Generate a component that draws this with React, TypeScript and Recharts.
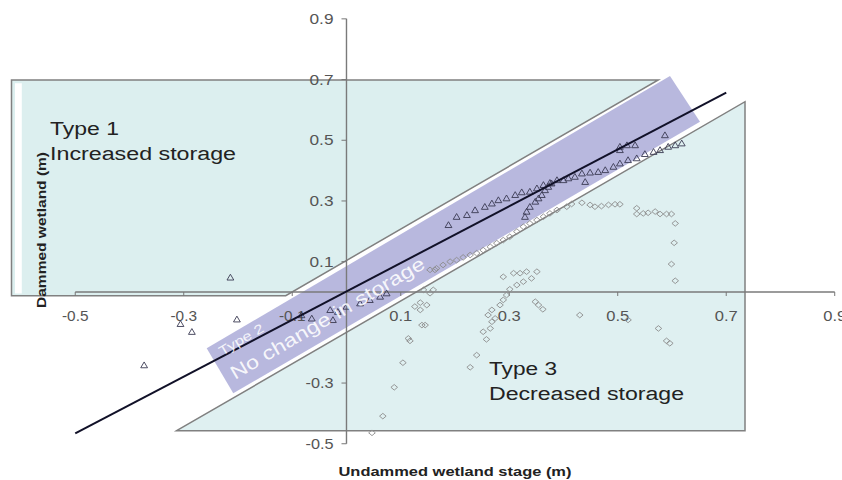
import React from 'react';
import { ScatterChart, Scatter, XAxis, YAxis } from 'recharts';

const W = 842;
const H = 480;
const X_DOMAIN: [number, number] = [-0.6387, 0.9134];
const Y_DOMAIN: [number, number] = [-0.6194, 0.9621];

const xTickValues = [-0.5, -0.3, -0.1, 0.1, 0.3, 0.5, 0.7, 0.9];
const yTickValues = [-0.5, -0.3, 0.1, 0.3, 0.5, 0.7, 0.9];

// Dammed wetland observations (triangles)
const triX = [
  -0.214, -0.202, -0.285, -0.306, -0.373,
  -0.083, -0.064, -0.030, -0.025, -0.016, 0.0, 0.025, 0.043, 0.062, 0.074,
  0.188, 0.203, 0.222, 0.237, 0.255, 0.268, 0.28, 0.295, 0.311, 0.323, 0.338, 0.351, 0.363, 0.375,
  0.388, 0.4, 0.409, 0.421, 0.434, 0.449, 0.464, 0.477, 0.492, 0.504, 0.519, 0.535, 0.55, 0.566,
  0.578, 0.593, 0.606, 0.618,
  0.504, 0.517, 0.532, 0.504, 0.587, 0.44,
  0.329, 0.332, 0.338, 0.348, 0.354, 0.36, 0.366, 0.372, 0.378,
];
const triY = [
  0.048, -0.09, -0.131, -0.105, -0.241,
  -0.076, -0.087, -0.059, -0.092, -0.065, -0.048, -0.037, -0.026, -0.015, -0.004,
  0.221, 0.248, 0.254, 0.27, 0.281, 0.292, 0.303, 0.309, 0.32, 0.329, 0.331, 0.342, 0.353, 0.36,
  0.369, 0.369, 0.375, 0.38, 0.391, 0.394, 0.396, 0.402, 0.413, 0.424, 0.435, 0.441, 0.455, 0.462,
  0.468, 0.479, 0.484, 0.49,
  0.479, 0.484, 0.484, 0.468, 0.517, 0.363,
  0.248, 0.265, 0.281, 0.298, 0.309, 0.32, 0.336, 0.347, 0.358,
];

// Second set of observations (diamonds)
const diaX = [
  0.142, 0.16, 0.154, 0.148, 0.136, 0.163, 0.154, 0.166, 0.178, 0.191, 0.203, 0.215, 0.228, 0.24,
  0.252, 0.265, 0.277, 0.289, 0.301, 0.314, 0.326, 0.338, 0.351, 0.363, 0.375, 0.388, 0.406, 0.415,
  0.434, 0.449, 0.458, 0.47, 0.483, 0.495, 0.504, 0.535, 0.535, 0.547, 0.556, 0.569, 0.578, 0.59,
  0.599, 0.606, 0.604, 0.599, 0.606, 0.575, 0.59, 0.596, 0.519, 0.43,
  0.289, 0.308, 0.32, 0.332, 0.351, 0.341, 0.326, 0.314, 0.301, 0.295, 0.289, 0.283, 0.268, 0.261,
  0.274, 0.268, 0.265, 0.252, 0.258, 0.24, 0.228, 0.348, 0.354, 0.362,
  0.139, 0.145, 0.126, 0.136, 0.117, 0.104, 0.088, 0.067, 0.047, 0.114,
];
const diaY = [
  0.007, 0.007, -0.004, -0.043, -0.059, 0.073, 0.073, 0.078, 0.089, 0.1, 0.105, 0.114, 0.122, 0.128,
  0.138, 0.149, 0.161, 0.171, 0.182, 0.199, 0.215, 0.226, 0.237, 0.248, 0.259, 0.27, 0.281, 0.29,
  0.294, 0.287, 0.281, 0.283, 0.287, 0.289, 0.289, 0.276, 0.257, 0.259, 0.261, 0.265, 0.257, 0.257,
  0.257, 0.226, 0.162, 0.092, 0.037, -0.12, -0.161, -0.169, -0.092, -0.076,
  0.05, 0.062, 0.062, 0.067, 0.067, 0.045, 0.034, 0.023, 0.009, -0.01, -0.026, -0.043, -0.059, -0.076,
  -0.087, -0.098, -0.12, -0.131, -0.156, -0.208, -0.248, -0.032, -0.043, -0.057,
  -0.109, -0.109, -0.048, -0.035, -0.161, -0.233, -0.314, -0.409, -0.464, -0.153,
];

// Fitted line
const fitX = [-0.5, 0.7];
const fitY = [-0.466, 0.657];

// Region outlines (data units)
const type1X = [-0.6175, 0.5747, -0.112, -0.6175];
const type1Y = [0.6985, 0.6985, -0.012, -0.012];
const stripX = [-0.611, -0.5985, -0.5985, -0.611];
const stripY = [0.688, 0.688, -0.005, -0.005];
const type3X = [-0.3131, 0.7346, 0.7346];
const type3Y = [-0.457, 0.627, -0.457];
const bandX = [-0.2577, 0.5963, 0.6516, -0.2087];
const bandY = [-0.1855, 0.7117, 0.5611, -0.3338];

const axisXLineX = [-0.5, 0.9];
const axisXLineY = [0, 0];
const axisYLineX = [0, 0];
const axisYLineY = [-0.5, 0.9];

const zip = (xs: number[], ys: number[]) => xs.map((x, i) => ({ x, y: ys[i] }));

const FONT = '"Liberation Sans", Arial, sans-serif';
const BAND_ANGLE = -30.45;

const empty = () => <g />;

const polygonLine = (fill: string, stroke: string, sw: number, opacity = 1) => (p: any) => {
  const pts = (p.points || []).map((q: any) => `${q.x},${q.y}`).join(' ');
  return <polygon points={pts} fill={fill} fillOpacity={opacity} stroke={stroke} strokeWidth={sw} />;
};

const triangleShape = (p: any) => {
  const { cx, cy } = p;
  return (
    <polygon
      points={`${cx},${cy - 3.2} ${cx - 3.4},${cy + 2.6} ${cx + 3.4},${cy + 2.6}`}
      fill="none"
      stroke="#3a3a52"
      strokeWidth={0.9}
    />
  );
};

const diamondShape = (p: any) => {
  const { cx, cy } = p;
  return (
    <polygon
      points={`${cx},${cy - 2.8} ${cx + 3.3},${cy} ${cx},${cy + 2.8} ${cx - 3.3},${cy}`}
      fill="none"
      stroke="#8c8c8c"
      strokeWidth={0.9}
    />
  );
};

const fmt = (v: number) => v.toFixed(1);

const xTickShape = (p: any) => {
  const label = fmt(p.payload.x);
  return (
    <g>
      <line x1={p.cx} y1={p.cy} x2={p.cx} y2={p.cy + 4} stroke="#777" strokeWidth={1} />
      <text
        x={p.cx}
        y={p.cy + 29}
        textAnchor="middle"
        fontFamily={FONT}
        fontSize={14}
        fill="#555"
        textLength={label.startsWith('-') ? 26.5 : 23}
        lengthAdjust="spacingAndGlyphs"
      >
        {label}
      </text>
    </g>
  );
};

const yTickShape = (p: any) => {
  const label = fmt(p.payload.y);
  return (
    <g>
      <line x1={p.cx - 5} y1={p.cy} x2={p.cx} y2={p.cy} stroke="#777" strokeWidth={1} />
      <text
        x={p.cx - 13}
        y={p.cy + 5}
        textAnchor="end"
        fontFamily={FONT}
        fontSize={14}
        fill="#555"
        textLength={label.startsWith('-') ? 28 : 24}
        lengthAdjust="spacingAndGlyphs"
      >
        {label}
      </text>
    </g>
  );
};

const textShape =
  (text: string, opts: { size: number; width: number; fill: string; bold?: boolean; rotate?: number; anchor?: string; opacity?: number }) =>
  (p: any) => {
    const { cx, cy } = p;
    return (
      <text
        x={cx}
        y={cy}
        transform={opts.rotate ? `rotate(${opts.rotate} ${cx} ${cy})` : undefined}
        textAnchor={opts.anchor || 'start'}
        fontFamily={FONT}
        fontSize={opts.size}
        fontWeight={opts.bold ? 'bold' : 'normal'}
        fill={opts.fill}
        fillOpacity={opts.opacity ?? 1}
        textLength={opts.width}
        lengthAdjust="spacingAndGlyphs"
      >
        {text}
      </text>
    );
  };

// Annotation anchors (data units)
const type1Title = { x: -0.5465, y: 0.5173 };
const type1Sub = { x: -0.5465, y: 0.4349 };
const type3Title = { x: 0.2627, y: -0.2735 };
const type3Sub = { x: 0.2627, y: -0.3542 };
const type2Title = { x: -0.2295, y: -0.2109 };
const type2Sub = { x: -0.2055, y: -0.29 };
const xTitle = { x: 0.2, y: -0.6063 };
const yTitle = { x: -0.5535, y: 0.2043 };

export default function App() {
  return (
    <div style={{ position: 'absolute', left: 0, top: 0, width: W, height: H, background: '#fff' }}>
      <ScatterChart width={W} height={H} margin={{ top: 0, right: 0, bottom: 0, left: 0 }}>
        <XAxis type="number" dataKey="x" domain={X_DOMAIN} hide />
        <YAxis type="number" dataKey="y" domain={Y_DOMAIN} hide />

        <Scatter data={zip(type1X, type1Y)} line={polygonLine('#dcefef', '#808080', 1.5)} shape={empty} isAnimationActive={false} />
        <Scatter data={zip(stripX, stripY)} line={polygonLine('#ffffff', 'none', 0)} shape={empty} isAnimationActive={false} />
        <Scatter data={zip(type3X, type3Y)} line={polygonLine('#dff0f1', '#808080', 1.5)} shape={empty} isAnimationActive={false} />
        <Scatter data={zip(bandX, bandY)} line={polygonLine('#b4b4dc', 'none', 0, 0.95)} shape={empty} isAnimationActive={false} />

        <Scatter data={zip(axisXLineX, axisXLineY)} line={{ stroke: '#7a7a7a', strokeWidth: 1.4 }} shape={empty} isAnimationActive={false} />
        <Scatter data={zip(axisYLineX, axisYLineY)} line={{ stroke: '#7a7a7a', strokeWidth: 1.4 }} shape={empty} isAnimationActive={false} />
        <Scatter data={xTickValues.map((t) => ({ x: t, y: 0 }))} shape={xTickShape} isAnimationActive={false} />
        <Scatter data={yTickValues.map((t) => ({ x: 0, y: t }))} shape={yTickShape} isAnimationActive={false} />

        <Scatter data={zip(diaX, diaY)} shape={diamondShape} isAnimationActive={false} />
        <Scatter data={zip(triX, triY)} shape={triangleShape} isAnimationActive={false} />
        <Scatter data={zip(fitX, fitY)} line={{ stroke: '#111128', strokeWidth: 2 }} shape={empty} isAnimationActive={false} />

        <Scatter data={[type1Title]} shape={textShape('Type 1', { size: 18, width: 69, fill: '#222' })} isAnimationActive={false} />
        <Scatter data={[type1Sub]} shape={textShape('Increased storage', { size: 18, width: 186, fill: '#222' })} isAnimationActive={false} />
        <Scatter data={[type3Title]} shape={textShape('Type 3', { size: 18, width: 68, fill: '#222' })} isAnimationActive={false} />
        <Scatter data={[type3Sub]} shape={textShape('Decreased storage', { size: 18, width: 195, fill: '#222' })} isAnimationActive={false} />
        <Scatter data={[type2Title]} shape={textShape('Type 2', { size: 13, width: 50, fill: '#fff', rotate: BAND_ANGLE, opacity: 0.85 })} isAnimationActive={false} />
        <Scatter data={[type2Sub]} shape={textShape('No change in storage', { size: 19, width: 222, fill: '#fff', rotate: BAND_ANGLE, opacity: 0.9 })} isAnimationActive={false} />
        <Scatter data={[xTitle]} shape={textShape('Undammed wetland stage (m)', { size: 12.5, width: 233, fill: '#222', bold: true, anchor: 'middle' })} isAnimationActive={false} />
        <Scatter data={[yTitle]} shape={textShape('Dammed wetland (m)', { size: 12.5, width: 156, fill: '#222', bold: true, anchor: 'middle', rotate: -90 })} isAnimationActive={false} />
      </ScatterChart>
    </div>
  );
}
